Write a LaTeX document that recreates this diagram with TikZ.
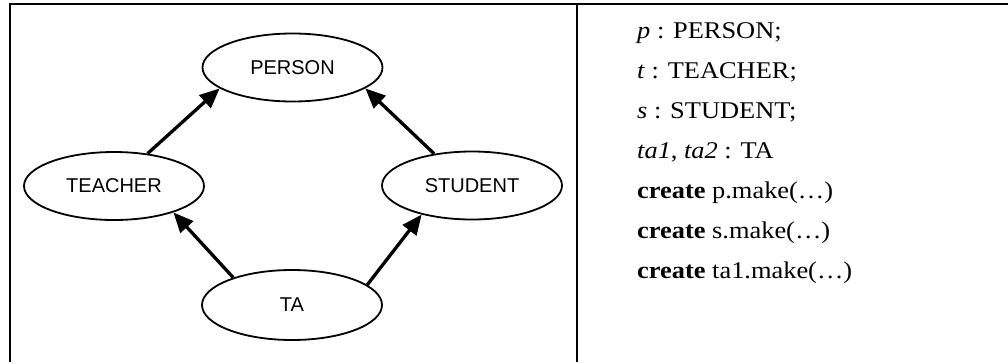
\documentclass[tikz,border=0pt]{standalone}
\usepackage{fontspec}
\setmainfont{Liberation Serif}
\newfontfamily\codefont[FakeStretch=1.1]{Liberation Serif}
\newfontfamily\classfont{Liberation Sans}
\usetikzlibrary{shapes.geometric,arrows.meta}

\tikzset{
  frame/.style={line width=2pt},
  classnode/.style={ellipse, draw, line width=1.8pt, minimum width=180pt,
    minimum height=68pt, inner sep=0pt,
    font=\classfont\fontsize{20pt}{24pt}\selectfont},
  inherit/.style={line width=3.3pt, -{Triangle[length=20pt,width=17pt]}},
  codeline/.style={anchor=base west, inner sep=0pt,
    font=\codefont\fontsize{24pt}{28pt}\selectfont}
}

\begin{document}
\begin{tikzpicture}[x=1pt,y=-1pt]
  \useasboundingbox (0,0) rectangle (1008,362);

  % table rules
  \coordinate (tl) at (10,3.7);
  \coordinate (tr) at (1008,3.7);
  \coordinate (bl) at (10,362);
  \coordinate (mt) at (577,3.7);
  \coordinate (mb) at (577,362);
  \draw[frame] (tr) -- (tl) -- (bl);
  \draw[frame] (mt) -- (mb);

  % class hierarchy
  \node[classnode] (person)  at (292.5,67.5) {PERSON};
  \node[classnode] (teacher) at (114,186)    {TEACHER};
  \node[classnode] (student) at (472,185.5)  {STUDENT};
  \node[classnode, minimum height=70pt] (ta) at (292,305) {TA};

  \draw[inherit] (teacher.44)    -- (person.196.5);
  \draw[inherit] (student.140.6) -- (person.344.7);
  \draw[inherit] (ta.155)        -- (teacher.336.7);
  \draw[inherit] (ta.15)         -- (student.210.5);

  % declarations and creation instructions
  \node[codeline] (l1) at (637,38)  {\textit{p} : PERSON;};
  \node[codeline] (l2) at (637,78)  {\textit{t} : TEACHER;};
  \node[codeline] (l3) at (637,118) {\textit{s} : STUDENT;};
  \node[codeline] (l4) at (637,158) {\textit{ta1}, \textit{ta2} : TA};
  \node[codeline] (l5) at (637,198) {\textbf{create} p.make(…)};
  \node[codeline] (l6) at (637,238) {\textbf{create} s.make(…)};
  \node[codeline] (l7) at (637,278) {\textbf{create} ta1.make(…)};
\end{tikzpicture}
\end{document}
